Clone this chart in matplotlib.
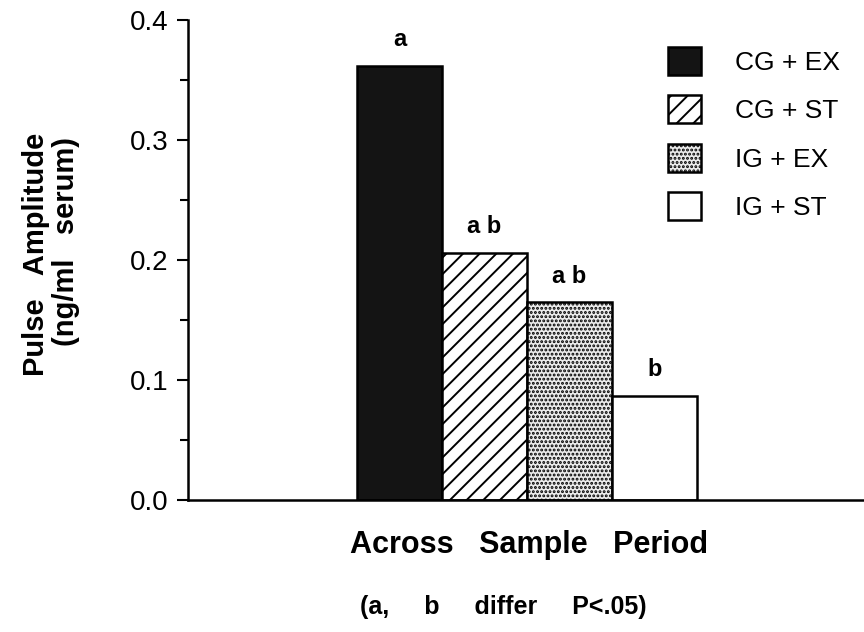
import matplotlib
matplotlib.use("Agg")
import matplotlib.pyplot as plt

groups = ["CG + EX", "CG + ST", "IG + EX", "IG + ST"]
amplitude = [0.362, 0.206, 0.165, 0.087]
letters = ["a", "ab", "ab", "b"]
yticks = [0.0, 0.1, 0.2, 0.3, 0.4]

plt.rcParams["font.family"] = ["Liberation Sans", "DejaVu Sans"]
plt.rcParams["hatch.linewidth"] = 1.4

fig = plt.figure(figsize=(8.64, 6.32), dpi=100)
ax = fig.add_axes([0.2176, 0.2089, 0.7824, 0.7595])

faces = ["#141414", "white", "#ebebeb", "white"]
hatches = [None, "//", "....", None]
xs = range(len(groups))
bars = []
for x, v, fc, h in zip(xs, amplitude, faces, hatches):
    b = ax.bar(x, v, width=1.0, color=fc, edgecolor="black", linewidth=1.8,
               hatch=h)
    bars.append(b[0])

# significance letters over each bar
for x, v, t in zip(xs, amplitude, letters):
    ax.text(x, v + 0.012, " ".join(t), ha="center", va="bottom",
            fontsize=17, fontweight="bold")

ax.set_xlim(-2.49, 5.47)
ax.set_ylim(0, 0.4)
ax.set_yticks(yticks)
ax.set_yticklabels([f"{t:.1f}" for t in yticks])
ax.set_yticks([0.05, 0.15, 0.25, 0.35], minor=True)
ax.set_xticks([])
ax.tick_params(axis="y", which="major", length=8, width=1.5, labelsize=20, pad=6)
ax.tick_params(axis="y", which="minor", length=6, width=1.5)
for s in ["top", "right"]:
    ax.spines[s].set_visible(False)
ax.spines["left"].set_linewidth(1.8)
ax.spines["bottom"].set_linewidth(1.8)

ax.legend(bars, groups, loc="upper left", bbox_to_anchor=(668 / 864, 1 - 47 / 632),
          bbox_transform=fig.transFigure, frameon=False, fontsize=19,
          handlelength=1.25, handleheight=1.25, labelspacing=0.78,
          handletextpad=1.3, borderpad=0, borderaxespad=0)

fig.text(36 / 864, 1 - 254 / 632, "Pulse   Amplitude", rotation=90,
         ha="center", va="center", fontsize=21, fontweight="bold")
fig.text(66 / 864, 1 - 241 / 632, "(ng/ml   serum)", rotation=90,
         ha="center", va="center", fontsize=21, fontweight="bold")
fig.text(529 / 864, 1 - 545 / 632, "Across   Sample   Period", ha="center",
         va="center", fontsize=22, fontweight="bold")
fig.text(503 / 864, 1 - 607 / 632, "(a,     b     differ     P<.05)", ha="center",
         va="center", fontsize=18, fontweight="bold")

fig.savefig("out.png", dpi=100)
